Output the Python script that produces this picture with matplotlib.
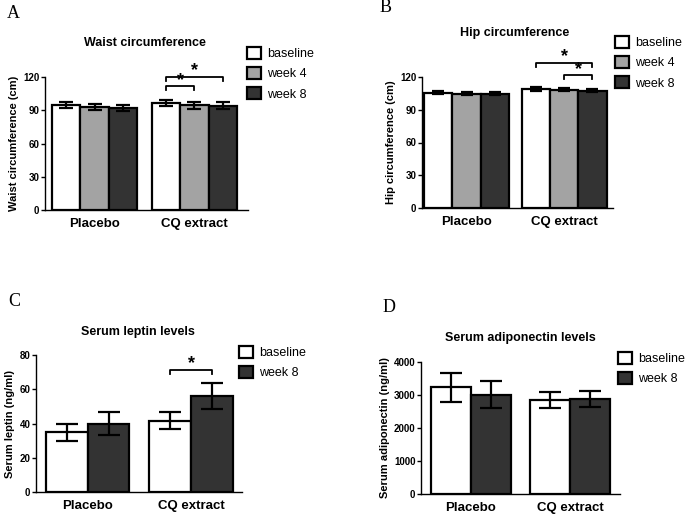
import matplotlib.pyplot as plt
from matplotlib.patches import Patch

plt.rcParams['font.family'] = ['Liberation Sans', 'DejaVu Sans']

groups = ['Placebo', 'CQ extract']
colors = {'baseline': 'white', 'week 4': '#a3a3a3', 'week 8': '#333333'}

# A - waist
waist_series = ['baseline', 'week 4', 'week 8']
waist_mean = [[94.5, 93.0, 92.0], [96.5, 94.5, 94.0]]
waist_err = [[2.5, 3.0, 2.5], [3.0, 3.0, 3.0]]

# B - hip
hip_series = ['baseline', 'week 4', 'week 8']
hip_mean = [[105.5, 104.8, 104.7], [109.0, 108.3, 107.5]]
hip_err = [[1.5, 1.5, 1.5], [1.5, 1.5, 1.5]]

# C - leptin
leptin_series = ['baseline', 'week 8']
leptin_mean = [[35.0, 40.0], [41.5, 56.0]]
leptin_err = [[5.0, 7.0], [5.0, 7.5]]

# D - adiponectin
adipo_series = ['baseline', 'week 8']
adipo_mean = [[3230, 3010], [2860, 2890]]
adipo_err = [[430, 400], [240, 240]]

W, H = 685.0, 515.0
fig = plt.figure(figsize=(6.85, 5.15), dpi=100)


def panel(rect, series, means, errs, gap, xlim, ylim, yticks, title, title_xy,
          ylabel, capsize, brackets, legend_xy, letter, letter_xy):
    ax = fig.add_axes(rect)
    n = len(series)
    centers = []
    for g in range(len(groups)):
        start = g * (n + gap)
        xs = [start + i for i in range(n)]
        centers.append(xs)
        for i, s in enumerate(series):
            ax.bar(xs[i], means[g][i], width=1.0, color=colors[s],
                   edgecolor='black', linewidth=1.6, zorder=2)
            ax.errorbar(xs[i], means[g][i], yerr=errs[g][i], color='black',
                        capsize=capsize, elinewidth=1.6, capthick=1.6, zorder=3)
    ax.set_xlim(*xlim)
    ax.set_ylim(*ylim)
    ax.set_yticks(yticks)
    ax.set_yticklabels([str(t) for t in yticks], fontsize=7, fontweight='bold')
    ax.set_xticks([sum(c) / n for c in centers])
    ax.set_xticklabels(groups, fontsize=9.5, fontweight='bold')
    ax.tick_params(axis='x', length=0, pad=6)
    ax.tick_params(axis='y', length=3, width=1, pad=1)
    for sp in ['top', 'right']:
        ax.spines[sp].set_visible(False)
    for sp in ['left', 'bottom']:
        ax.spines[sp].set_linewidth(1.0)
    fig.text(title_xy[0] / W, 1 - title_xy[1] / H, title, fontsize=9,
             fontweight='bold', ha='center', va='center')
    ax.set_ylabel(ylabel, fontsize=8, fontweight='bold', labelpad=3)
    span = ylim[1] - ylim[0]
    for (i, j, y) in brackets:
        x1 = centers[1][i]
        x2 = centers[1][j]
        h = span * 0.03
        ax.plot([x1, x1, x2, x2], [y - h, y, y, y - h], color='black',
                lw=1.3, clip_on=False)
        ax.text((x1 + x2) / 2, y + span * 0.045, '*', ha='center', va='center',
                fontsize=13, fontweight='bold')
    handles = [Patch(facecolor=colors[s], edgecolor='black', linewidth=1.6)
               for s in series]
    ax.legend(handles, series, loc='upper left',
              bbox_to_anchor=(legend_xy[0] / W, 1 - legend_xy[1] / H),
              bbox_transform=fig.transFigure, frameon=False, fontsize=9,
              handlelength=1.1, handleheight=1.1, handletextpad=0.5,
              labelspacing=0.55, borderpad=0, borderaxespad=0)
    fig.text(letter_xy[0] / W, 1 - letter_xy[1] / H, letter, fontsize=13,
             family='Liberation Serif', ha='left', va='center')
    return ax


panel([45 / W, 1 - 210 / H, 203 / W, 133 / H], waist_series, waist_mean,
      waist_err, 0.53, (-0.75, 6.42), (0, 120), [0, 30, 60, 90, 120],
      'Waist circumference', (145, 43), 'Waist circumference (cm)', 5,
      [(0, 2, 120), (0, 1, 111.5)], (247, 47), 'A', (7, 14))

panel([422 / W, 1 - 208 / H, 191 / W, 131 / H], hip_series, hip_mean,
      hip_err, 0.47, (-0.58, 6.2), (0, 120), [0, 30, 60, 90, 120],
      'Hip circumference', (515, 33), 'Hip circumference (cm)', 4.5,
      [(0, 2, 133), (1, 2, 121.5)], (615, 36), 'B', (380, 8))

panel([36 / W, 1 - 492 / H, 206 / W, 137 / H], leptin_series, leptin_mean,
      leptin_err, 0.48, (-0.74, 4.2), (0, 80), [0, 20, 40, 60, 80],
      'Serum leptin levels', (138, 332), 'Serum leptin (ng/ml)', 8,
      [(0, 1, 71.5)], (239, 346), 'C', (8, 302))

panel([421 / W, 1 - 494 / H, 199 / W, 132 / H], adipo_series, adipo_mean,
      adipo_err, 0.5, (-0.75, 4.25), (0, 4000), [0, 1000, 2000, 3000, 4000],
      'Serum adiponectin levels', (520, 338), 'Serum adiponectin (ng/ml)', 8,
      [], (618, 352), 'D', (383, 307))

fig.savefig('out.png', dpi=100)
